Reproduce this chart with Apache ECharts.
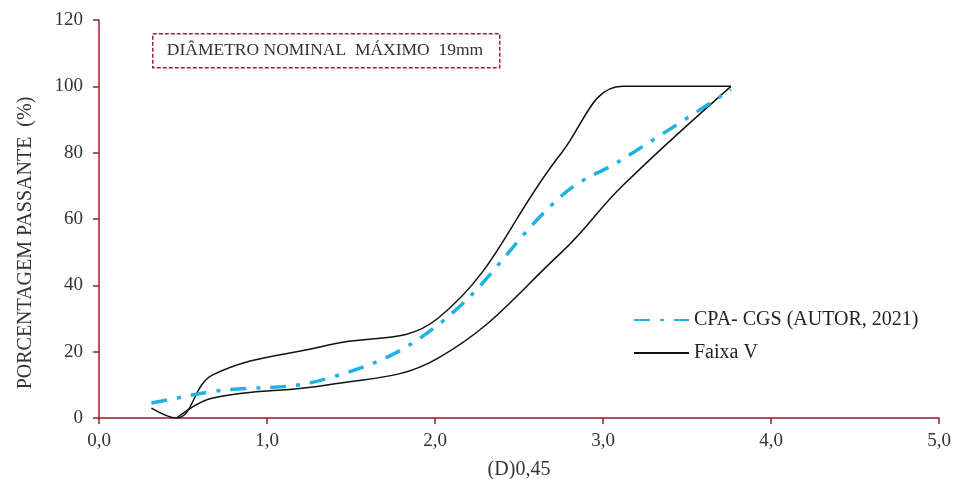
<!DOCTYPE html>
<html>
<head>
<meta charset="utf-8">
<script src="https://cdn.jsdelivr.net/npm/echarts@6/dist/echarts.min.js"></script>
<style>
  html, body { margin: 0; padding: 0; background: #fff; }
  #main { width: 956px; height: 479px; }
</style>
</head>
<body>
<div id="main"></div>
<script>
// x = D^0.45 of each sieve opening, y = % passing
var cpaX = [0.312, 0.462, 0.677, 1.366, 2.016, 2.754, 3.116, 3.762]
var cpaY = [4.5, 6, 8, 12, 28, 67, 78, 99]

// Faixa V envelope: upper limit (starting at the finest sieve) and lower limit
var upperX = [0.312, 0.462, 0.677, 1.366, 2.016, 2.754, 3.116, 3.762]
var upperY = [3, 0, 13, 22, 30, 80, 100, 100]
var lowerX = [0.462, 0.677, 1.366, 2.016, 2.754, 3.116, 3.762]
var lowerY = [0, 6, 10, 18, 50, 70, 100]

function pairs(xs, ys) {
  return xs.map(function (x, i) { return [x, ys[i]] })
}

var axisRed = '#a31a2c'
var serif = '"Liberation Serif", "DejaVu Serif", serif'

var chartDom = document.getElementById('main')
var myChart = echarts.init(chartDom)
var option

option = {
  animation: false,
  textStyle: { fontFamily: serif },
  grid: { left: 99, right: 17, top: 20, bottom: 61, outerBoundsMode: 'none', containLabel: false },
  xAxis: {
    type: 'value',
    min: 0,
    max: 5,
    interval: 1,
    name: '(D)0,45',
    nameLocation: 'middle',
    nameGap: 42,
    nameTextStyle: { fontFamily: serif, fontSize: 20, color: '#333' },
    axisLine: { lineStyle: { color: axisRed, width: 1.5 } },
    axisTick: { show: true, length: 6, lineStyle: { color: axisRed, width: 1.5 } },
    splitLine: { show: false },
    axisLabel: {
      fontFamily: serif, fontSize: 19, color: '#333', margin: 14,
      formatter: function (v) { return v.toFixed(1).replace('.', ',') }
    }
  },
  yAxis: {
    type: 'value',
    min: 0,
    max: 120,
    interval: 20,
    axisLine: { show: true, lineStyle: { color: axisRed, width: 1.5 } },
    axisTick: { show: true, length: 6, lineStyle: { color: axisRed, width: 1.5 } },
    splitLine: { show: false },
    axisLabel: { fontFamily: serif, fontSize: 19, color: '#333', margin: 16 }
  },
  legend: {
    orient: 'vertical',
    left: 628,
    top: 305,
    itemWidth: 55,
    itemHeight: 14,
    itemGap: 13,
    itemStyle: { opacity: 0 },
    textStyle: { fontFamily: serif, fontSize: 20, color: '#222' },
    data: ['CPA- CGS (AUTOR, 2021)', 'Faixa V']
  },
  graphic: [
    {
      type: 'text',
      x: 26,
      y: 243,
      rotation: Math.PI / 2,
      style: {
        text: 'PORCENTAGEM PASSANTE  (%)',
        font: '20px ' + serif,
        fill: '#333',
        align: 'center',
        verticalAlign: 'middle'
      }
    },
    {
      type: 'rect',
      left: 152,
      top: 33,
      shape: { width: 347, height: 34 },
      style: { fill: '#fff', stroke: '#a3202e', lineWidth: 1.5, lineDash: [4, 2] }
    },
    {
      type: 'text',
      x: 325,
      y: 50,
      style: {
        text: 'DIÂMETRO NOMINAL  MÁXIMO  19mm',
        font: '17.5px ' + serif,
        fill: '#333',
        align: 'center',
        verticalAlign: 'middle'
      }
    }
  ],
  series: [
    {
      name: 'CPA- CGS (AUTOR, 2021)',
      type: 'line',
      smooth: 0.4,
      symbol: 'none',
      data: pairs(cpaX, cpaY),
      lineStyle: { color: '#1fb2e3', width: 3.5, type: [16, 10, 4, 10], dashOffset: 0 },
      itemStyle: { color: '#1fb2e3' },
      z: 3
    },
    {
      name: 'Faixa V',
      type: 'line',
      smooth: 0.4,
      symbol: 'none',
      data: pairs(upperX, upperY),
      lineStyle: { color: '#111', width: 1.5 },
      itemStyle: { color: '#111' },
      z: 2
    },
    {
      name: 'Faixa V',
      type: 'line',
      smooth: 0.4,
      symbol: 'none',
      data: pairs(lowerX, lowerY),
      lineStyle: { color: '#111', width: 1.5 },
      itemStyle: { color: '#111' },
      z: 2
    }
  ]
}

option && myChart.setOption(option)
</script>
</body>
</html>
